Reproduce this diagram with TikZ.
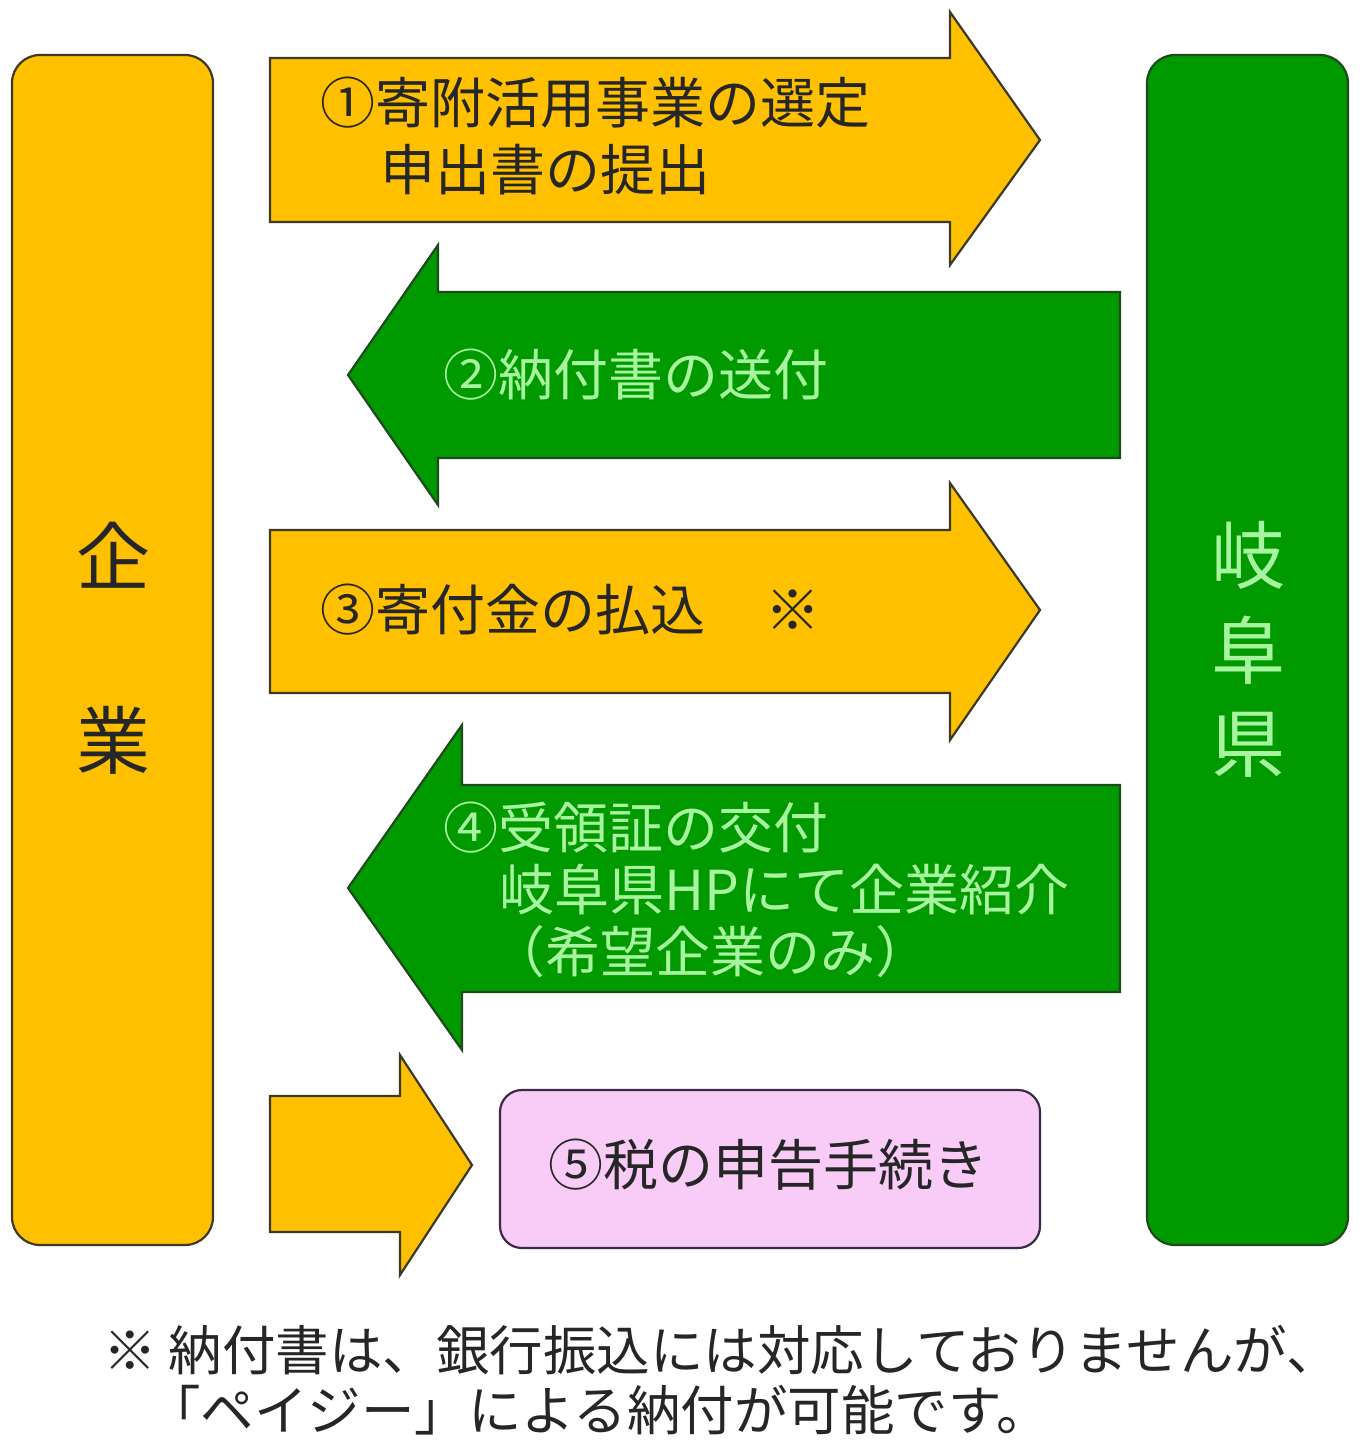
\documentclass[tikz,border=0pt]{standalone}
\usepackage{fontspec}
\setmainfont{Noto Sans CJK JP}
\definecolor{kigyo}{HTML}{FFC000}
\definecolor{ken}{HTML}{009A00}
\definecolor{kenline}{HTML}{1E4A1E}
\definecolor{kigyoline}{HTML}{3C3A22}
\definecolor{lightgreen}{HTML}{A8F5A0}
\definecolor{pinkfill}{HTML}{F9CCF8}
\definecolor{pinkline}{HTML}{3A2A48}

\begin{document}
\begin{tikzpicture}[x=1pt,y=-1pt,
	orangeshape/.style={fill=kigyo, draw=kigyoline, line width=2.2pt, line join=miter},
	greenshape/.style={fill=ken, draw=kenline, line width=2.2pt, line join=miter},
	bigtext/.style={font=\fontsize{74}{74}\selectfont},
	darktext/.style={anchor=west, inner sep=0pt, text=black!85, font=\fontsize{55}{55}\selectfont},
	lighttext/.style={anchor=west, inner sep=0pt, text=lightgreen, font=\fontsize{55}{55}\selectfont},
	notetext/.style={anchor=west, inner sep=0pt, text=black!85, font=\fontsize{53.5}{53.5}\selectfont}]
	\useasboundingbox (0,0) rectangle (1365,1455);
	% company and prefecture columns
	\draw[orangeshape, rounded corners=28pt] (12,55) rectangle (213,1245);
	\node[bigtext, text=black!85] (kigyoA) at (113,555) {企};
	\node[bigtext, text=black!85] (kigyoB) at (113,740) {業};
	\draw[greenshape, rounded corners=28pt] (1147,55) rectangle (1348,1245);
	\foreach \ch/\y [count=\i] in {岐/555, 阜/650, 県/745}
	{
		\node[bigtext, text=lightgreen] (ken\i) at (1248,\y) {\ch};
	}
	% step 1: company to prefecture
	\draw[orangeshape] (270,58) -- (950,58) -- (950,12) -- (1040,140) -- (950,265) -- (950,222) -- (270,222) -- cycle;
	\node[darktext] (stepA1) at (320,103) {①寄附活用事業の選定};
	\node[darktext] (stepA2) at (380,170) {申出書の提出};
	% step 2: prefecture to company
	\draw[greenshape] (1120,292) -- (438,292) -- (438,245) -- (348,375) -- (438,505) -- (438,458) -- (1120,458) -- cycle;
	\node[lighttext] (stepB) at (443,375) {②納付書の送付};
	% step 3: company to prefecture
	\draw[orangeshape] (270,530) -- (950,530) -- (950,483) -- (1040,610) -- (950,740) -- (950,693) -- (270,693) -- cycle;
	\node[darktext] (stepC) at (320,610) {③寄付金の払込};
	\node[darktext] (stepCnote) at (765,610) {※};
	% step 4: prefecture to company
	\draw[greenshape] (1120,785) -- (462,785) -- (462,725) -- (348,888) -- (462,1050) -- (462,992) -- (1120,992) -- cycle;
	\node[lighttext] (stepD1) at (443,828) {④受領証の交付};
	\node[lighttext] (stepD2) at (499,890) {岐阜県HPにて企業紹介};
	\node[lighttext] (stepD3) at (490,952) {（希望企業のみ）};
	% step 5: tax return
	\draw[orangeshape] (270,1096) -- (400,1096) -- (400,1055) -- (472,1165) -- (400,1275) -- (400,1232) -- (270,1232) -- cycle;
	\draw[fill=pinkfill, draw=pinkline, line width=2.2pt, rounded corners=22pt] (500,1090) rectangle (1040,1248);
	\node[darktext] (stepE) at (548,1165) {⑤税の申告手続き};
	% footnote
	\node[notetext] (noteA) at (103,1350) {※ 納付書は、銀行振込には対応しておりませんが、};
	\node[notetext] (noteB) at (147,1410) {「ペイジー」による納付が可能です。};
\end{tikzpicture}
\end{document}
